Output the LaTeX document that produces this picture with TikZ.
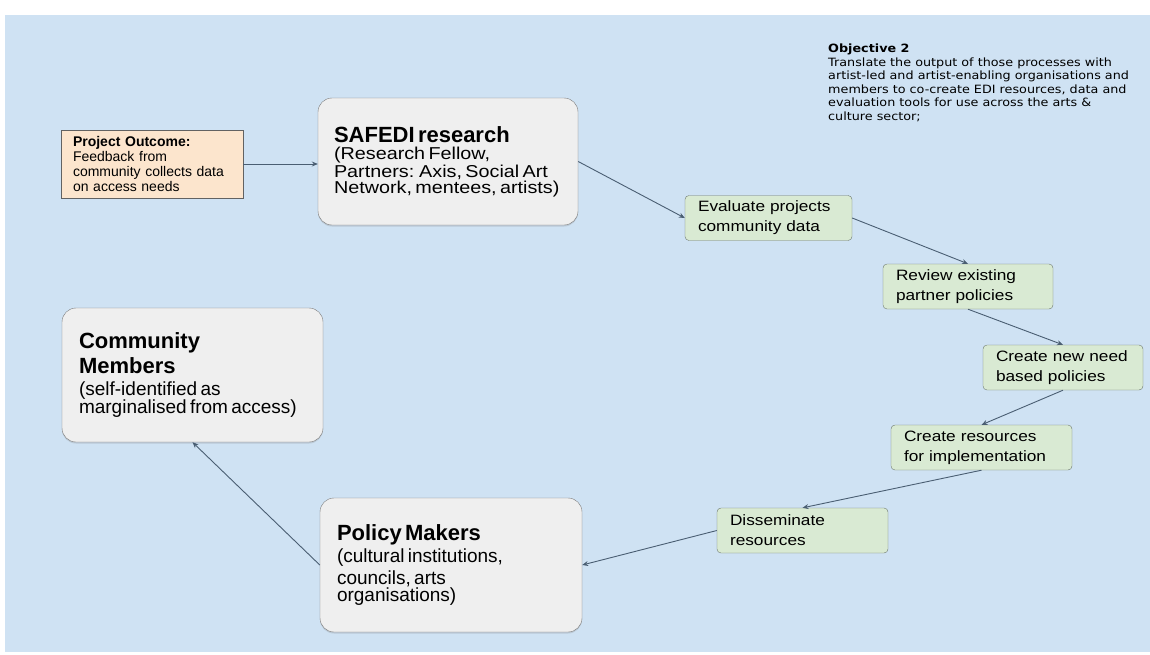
\documentclass[tikz,border=0pt]{standalone}
\usepackage{fontspec}
\setmainfont{Liberation Sans}
\newfontfamily\widesans[FakeStretch=1.15]{Liberation Sans}
\newfontfamily\objfont[FakeStretch=1.12]{DejaVu Sans}
\usetikzlibrary{arrows.meta,shadows}
\hyphenpenalty=10000
\exhyphenpenalty=10000

\definecolor{bgblue}{HTML}{CFE2F3}
\definecolor{boxgrey}{HTML}{EFEFEF}
\definecolor{stepgreen}{HTML}{D9EAD3}
\definecolor{outcomepeach}{HTML}{FCE5CD}
\definecolor{edgegrey}{HTML}{7A7A7A}
\definecolor{stepedge}{HTML}{6E786E}
\definecolor{linkblue}{HTML}{4A5E72}

\newcommand{\headfont}{\fontsize{22}{25}\selectfont\bfseries}
\newcommand{\bodyfont}{\fontsize{19}{22}\selectfont}
\newcommand{\safedifont}{\widesans\fontsize{17.2}{17.5}\selectfont}

\tikzset{
  bigbox/.style={draw=edgegrey, fill=boxgrey, rounded corners=14pt, align=left,
    inner xsep=17pt, inner ysep=0pt,
    drop shadow={shadow xshift=0pt, shadow yshift=-1.5pt, opacity=0.25}},
  stepbox/.style={draw=stepedge, fill=stepgreen, rounded corners=4pt, align=left,
    inner xsep=13pt, inner ysep=1pt, minimum height=45pt,
    font=\widesans\fontsize{15}{20}\selectfont},
  outcomebox/.style={draw=edgegrey!80!black, fill=outcomepeach, align=left,
    inner xsep=12pt, inner ysep=1pt, font=\fontsize{14}{15}\selectfont},
  link/.style={draw=linkblue, line width=0.9pt}
}

\begin{document}
\begin{tikzpicture}[x=1pt,y=-1pt,>={Stealth[length=6pt,width=5pt]}]
	% background panel
	\useasboundingbox (0,0) rectangle (1150,654);
	\fill[bgblue] (5,15) rectangle (1150,652);
	% objective note, top right
	\node[anchor=north west, inner sep=0pt, align=left,
	  font=\objfont\fontsize{11.4}{13.5}\selectfont] (objective) at (828,44)
	  {\textbf{Objective 2}\\
	   Translate the output of those processes with\\
	   artist-led and artist-enabling organisations and\\
	   members to co-create EDI resources, data and\\
	   evaluation tools for use across the arts \&\\
	   culture sector;};
	% project outcome
	\node[outcomebox, text width=158pt, minimum height=68pt] (outcome) at (152,164)
	  {\textbf{Project Outcome:}\\Feedback from\\community collects data\\on access needs};
	% the three big boxes
	\node[bigbox, inner xsep=16pt, text width=228pt, minimum height=127pt] (safedi) at (448,161.5)
	  {{\headfont SAFEDI research\par}\safedifont
	   (Research Fellow,\\Partners: Axis, Social Art\\Network, mentees, artists)};
	\node[bigbox, text width=227pt, minimum height=134pt] (community) at (192.5,375)
	  {{\headfont Community\\Members\par}\bodyfont
	   (self-identified as\\marginalised from access)};
	\node[bigbox, text width=228pt, minimum height=134pt] (policy) at (451,565)
	  {{\headfont Policy Makers\par}\bodyfont
	   (cultural institutions,\\councils, arts\\organisations)};
	% the steps
	\node[stepbox, text width=141pt] (evaluate) at (768.5,218) {Evaluate projects\\community data};
	\node[stepbox, text width=144pt] (review) at (968,286.5) {Review existing\\partner policies};
	\node[stepbox, text width=134pt] (newpolicy) at (1063,367.5) {Create new need\\based policies};
	\node[stepbox, text width=155pt] (resources) at (981.5,447.5) {Create resources\\for implementation};
	\node[stepbox, text width=145pt] (disseminate) at (802.5,530.5) {Disseminate\\resources};
	% connectors
	\draw[->,link] (outcome.east) -- (outcome.east -| safedi.west);
	\draw[->,link] (safedi.east) -- (evaluate.west);
	\draw[->,link] (evaluate.east) -- (review.north);
	\draw[->,link] (review.south) -- (newpolicy.north);
	\draw[->,link] (newpolicy.south) -- (resources.north);
	\draw[->,link] (resources.south) -- (disseminate.north);
	\draw[->,link] (disseminate.west) -- (policy.east);
	\draw[->,link] (policy.west) -- (community.south);
\end{tikzpicture}
\end{document}
